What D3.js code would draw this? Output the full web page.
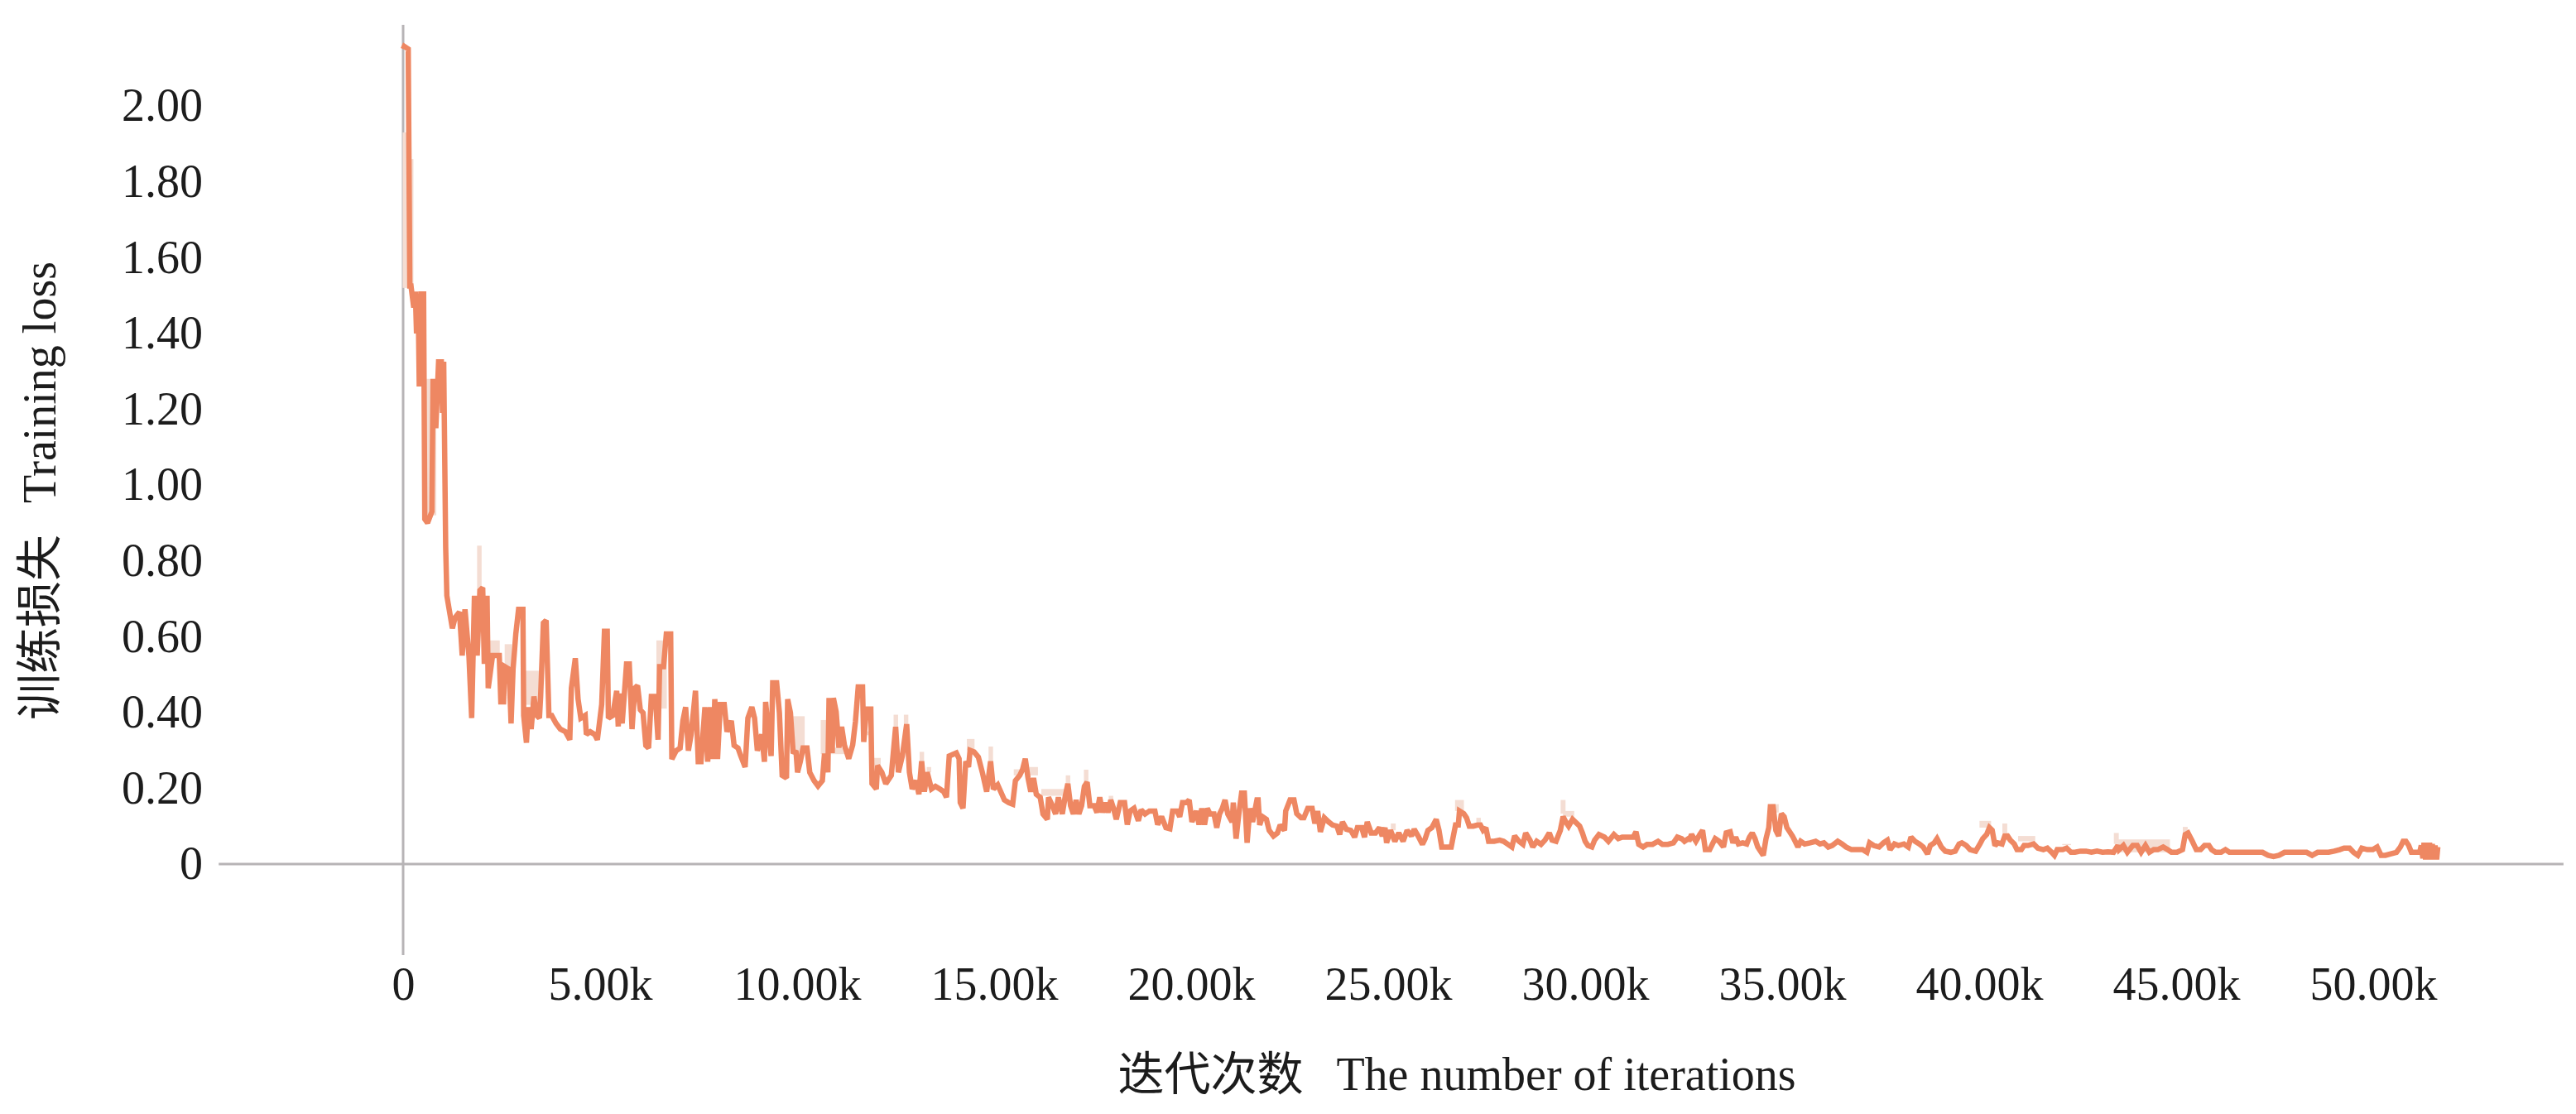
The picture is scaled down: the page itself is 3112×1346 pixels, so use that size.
<!DOCTYPE html>
<html><head><meta charset="utf-8">
<script src="https://cdn.jsdelivr.net/npm/d3@7"></script>
<style>html,body{margin:0;padding:0;background:#fff;} svg{display:block;}</style>
</head><body>
<svg id="chart" width="3112" height="1346"></svg>
<script>
// ---------- data (iterations in thousands, training loss) ----------
const yTickValues = [0, 0.2, 0.4, 0.6, 0.8, 1.0, 1.2, 1.4, 1.6, 1.8, 2.0];
const xTickValues = [0, 5, 10, 15, 20, 25, 30, 35, 40, 45, 50];
const xAxisExtent = [-4.68, 54.83];
const yAxisExtent = [-0.24, 2.214];
const xTitleZh = "迭代次数", xTitleEn = "The number of iterations";
const yTitleZh = "训练损失", yTitleEn = "Training loss";

const lossSegment1 = [[0.00,2.15],[0.03,2.157],[0.13,2.15],[0.17,1.525],[0.20,1.525],[0.27,1.468],[0.31,1.51],[0.34,1.40],[0.38,1.504],[0.41,1.26],[0.45,1.504],[0.52,1.504],[0.55,0.91],[0.62,0.90],[0.73,0.93],[0.76,1.28],[0.83,1.15],[0.90,1.325],[0.97,1.325],[1.00,1.19],[1.03,1.325],[1.08,0.837],[1.11,0.708],[1.18,0.665],[1.25,0.622],[1.32,0.65],[1.43,0.665],[1.50,0.55],[1.57,0.672],[1.67,0.55],[1.74,0.385],[1.81,0.708],[1.88,0.55],[1.95,0.722],[2.02,0.729],[2.06,0.528],[2.13,0.708],[2.16,0.464],[2.27,0.55],[2.44,0.55],[2.48,0.428],[2.55,0.428],[2.58,0.521],[2.69,0.514],[2.74,0.371],[2.79,0.514],[2.86,0.607],[2.93,0.672],[3.04,0.672],[3.06,0.392],[3.13,0.32],[3.18,0.414],[3.25,0.356],[3.32,0.442],[3.39,0.392],[3.46,0.385],[3.49,0.442],[3.56,0.636],[3.63,0.643],[3.70,0.392],[3.77,0.392],[3.88,0.371],[3.99,0.356],[4.12,0.349],[4.23,0.328],[4.27,0.464],[4.37,0.543],[4.44,0.435],[4.51,0.385],[4.62,0.392],[4.65,0.342],[4.75,0.349],[4.86,0.342],[4.93,0.328],[5.04,0.421],[5.11,0.614],[5.18,0.614],[5.21,0.385],[5.32,0.392],[5.42,0.457],[5.46,0.363],[5.49,0.45],[5.56,0.371],[5.67,0.528],[5.74,0.528],[5.81,0.356],[5.88,0.464],[5.95,0.471],[6.02,0.407],[6.09,0.399],[6.16,0.313],[6.23,0.306],[6.30,0.442],[6.40,0.442],[6.47,0.328],[6.51,0.521],[6.61,0.521],[6.68,0.607],[6.79,0.607],[6.82,0.277],[6.93,0.299],[7.03,0.306],[7.10,0.378],[7.17,0.414],[7.24,0.299],[7.31,0.342],[7.42,0.457],[7.49,0.27],[7.56,0.27],[7.66,0.414],[7.73,0.27],[7.80,0.414],[7.87,0.277],[7.91,0.435],[7.98,0.277],[8.05,0.421],[8.15,0.421],[8.22,0.349],[8.33,0.378],[8.40,0.313],[8.50,0.306],[8.57,0.285],[8.68,0.256],[8.75,0.385],[8.85,0.414],[8.92,0.385],[8.99,0.299],[9.10,0.342],[9.17,0.27],[9.20,0.428],[9.27,0.349],[9.34,0.285],[9.38,0.478],[9.48,0.478],[9.55,0.399],[9.62,0.234],[9.73,0.227],[9.76,0.435],[9.83,0.399],[9.90,0.292],[9.97,0.299],[10.01,0.242],[10.08,0.27],[10.15,0.306],[10.25,0.306],[10.32,0.242],[10.43,0.22],[10.53,0.206],[10.64,0.22],[10.69,0.285],[10.74,0.285]];

const lossSegment2 = [[10.78,0.242],[10.81,0.438],[10.89,0.293],[10.92,0.438],[10.99,0.402],[11.06,0.307],[11.13,0.362],[11.20,0.314],[11.31,0.278],[11.41,0.314],[11.48,0.376],[11.55,0.467],[11.66,0.467],[11.69,0.322],[11.76,0.409],[11.87,0.409],[11.90,0.212],[12.01,0.198],[12.04,0.26],[12.15,0.242],[12.25,0.212],[12.39,0.234],[12.50,0.362],[12.57,0.242],[12.67,0.285],[12.78,0.369],[12.85,0.242],[12.92,0.198],[13.02,0.22],[13.09,0.184],[13.16,0.271],[13.23,0.191],[13.30,0.242],[13.41,0.198],[13.51,0.205],[13.62,0.198],[13.72,0.191],[13.79,0.176],[13.86,0.285],[14.04,0.293],[14.11,0.278],[14.14,0.162],[14.21,0.147],[14.28,0.271],[14.35,0.256],[14.39,0.30],[14.49,0.296],[14.60,0.282],[14.70,0.242],[14.81,0.191],[14.91,0.271],[14.98,0.198],[15.09,0.209],[15.26,0.169],[15.37,0.162],[15.47,0.158],[15.54,0.22],[15.65,0.234],[15.72,0.249],[15.79,0.278],[15.86,0.227],[15.93,0.191],[16.00,0.227],[16.07,0.184],[16.17,0.176],[16.24,0.132],[16.35,0.118],[16.38,0.176],[16.49,0.151],[16.56,0.132],[16.63,0.176],[16.73,0.132],[16.80,0.176],[16.87,0.212],[16.94,0.154],[17.01,0.132],[17.08,0.169],[17.15,0.132],[17.22,0.154],[17.29,0.205],[17.36,0.216],[17.43,0.154],[17.54,0.154],[17.61,0.136],[17.68,0.176],[17.75,0.136],[17.82,0.162],[17.89,0.136],[17.96,0.169],[18.03,0.147],[18.10,0.118],[18.20,0.162],[18.31,0.162],[18.38,0.104],[18.45,0.14],[18.55,0.147],[18.66,0.114],[18.73,0.143],[18.83,0.132],[18.94,0.14],[19.08,0.14],[19.15,0.104],[19.25,0.125],[19.36,0.096],[19.46,0.093],[19.53,0.14],[19.64,0.14],[19.71,0.125],[19.78,0.162],[19.88,0.162],[19.95,0.169],[20.02,0.111],[20.13,0.14],[20.20,0.104],[20.27,0.147],[20.34,0.104],[20.41,0.147],[20.48,0.132],[20.58,0.132],[20.65,0.096],[20.72,0.132],[20.79,0.147],[20.86,0.169],[20.93,0.132],[21.04,0.111],[21.07,0.162],[21.14,0.067],[21.21,0.132],[21.28,0.187],[21.35,0.187],[21.42,0.056],[21.49,0.147],[21.56,0.111],[21.67,0.169]];

const lossSegment3 = [[21.70,0.169],[21.74,0.103],[21.81,0.125],[21.91,0.118],[21.98,0.089],[22.09,0.074],[22.19,0.082],[22.26,0.103],[22.37,0.089],[22.40,0.140],[22.51,0.169],[22.61,0.169],[22.68,0.133],[22.79,0.122],[22.86,0.122],[22.96,0.147],[23.07,0.147],[23.14,0.107],[23.21,0.140],[23.28,0.085],[23.38,0.122],[23.49,0.111],[23.59,0.103],[23.70,0.100],[23.77,0.078],[23.84,0.111],[23.94,0.092],[24.05,0.089],[24.15,0.071],[24.22,0.096],[24.33,0.096],[24.40,0.071],[24.47,0.111],[24.57,0.082],[24.68,0.082],[24.78,0.096],[24.85,0.074],[24.92,0.096],[24.96,0.056],[25.06,0.089],[25.17,0.060],[25.27,0.082],[25.38,0.060],[25.48,0.089],[25.59,0.074],[25.66,0.092],[25.76,0.074],[25.87,0.052],[25.94,0.067],[26.01,0.089],[26.11,0.096],[26.22,0.118],[26.29,0.089],[26.36,0.045],[26.46,0.045],[26.60,0.045],[26.71,0.103],[26.78,0.103],[26.81,0.140],[26.92,0.133],[26.99,0.122],[27.06,0.100],[27.16,0.100],[27.27,0.103],[27.34,0.103],[27.41,0.089],[27.48,0.096],[27.55,0.060],[27.69,0.060],[27.83,0.063],[27.93,0.060],[28.04,0.052],[28.14,0.045],[28.21,0.074],[28.32,0.060],[28.42,0.052],[28.49,0.082],[28.60,0.063],[28.67,0.045],[28.77,0.060],[28.88,0.052],[28.98,0.063],[29.09,0.082],[29.16,0.063],[29.26,0.060],[29.37,0.089],[29.44,0.125],[29.51,0.111],[29.58,0.100],[29.68,0.118],[29.75,0.111],[29.86,0.100],[29.93,0.082],[30.00,0.060],[30.07,0.049],[30.17,0.045],[30.24,0.063],[30.35,0.078],[30.49,0.071],[30.59,0.060],[30.73,0.078],[30.84,0.067],[30.94,0.071],[31.08,0.071],[31.22,0.071],[31.29,0.085],[31.36,0.052],[31.47,0.045],[31.57,0.052],[31.71,0.052],[31.85,0.060],[31.96,0.052],[32.10,0.052],[32.24,0.056],[32.34,0.071],[32.45,0.067],[32.52,0.060],[32.62,0.067]];

const lossSegment4 = [[32.63,0.060],[32.70,0.078],[32.81,0.060],[32.91,0.078],[32.98,0.089],[33.05,0.038],[33.16,0.038],[33.23,0.053],[33.30,0.067],[33.40,0.060],[33.51,0.045],[33.58,0.082],[33.68,0.085],[33.75,0.056],[33.82,0.071],[33.89,0.053],[34.00,0.056],[34.10,0.053],[34.17,0.071],[34.24,0.082],[34.31,0.067],[34.38,0.045],[34.45,0.034],[34.52,0.023],[34.59,0.067],[34.66,0.096],[34.70,0.151],[34.77,0.151],[34.84,0.089],[34.91,0.074],[34.98,0.133],[35.05,0.125],[35.12,0.096],[35.19,0.085],[35.26,0.074],[35.33,0.060],[35.40,0.045],[35.47,0.060],[35.57,0.053],[35.71,0.056],[35.85,0.060],[35.96,0.053],[36.06,0.056],[36.17,0.045],[36.27,0.049],[36.41,0.060],[36.52,0.053],[36.62,0.045],[36.76,0.038],[36.90,0.038],[37.04,0.038],[37.15,0.031],[37.22,0.056],[37.32,0.049],[37.46,0.045],[37.57,0.056],[37.67,0.063],[37.74,0.038],[37.85,0.053],[37.95,0.049],[38.09,0.053],[38.20,0.045],[38.27,0.071],[38.37,0.060],[38.48,0.053],[38.58,0.045],[38.69,0.027],[38.76,0.049],[38.86,0.056],[38.93,0.067],[39.04,0.045],[39.14,0.034],[39.28,0.031],[39.39,0.034],[39.49,0.053],[39.56,0.056],[39.67,0.049],[39.77,0.038],[39.91,0.034],[40.02,0.053],[40.09,0.067],[40.19,0.078],[40.26,0.096],[40.33,0.089],[40.40,0.049],[40.47,0.056],[40.58,0.053],[40.65,0.074],[40.72,0.074],[40.79,0.063],[40.89,0.053],[40.96,0.038],[41.07,0.038],[41.14,0.049],[41.24,0.049],[41.38,0.053],[41.49,0.042],[41.63,0.038],[41.73,0.042],[41.84,0.031],[41.91,0.023],[41.98,0.038],[42.12,0.038],[42.22,0.042],[42.33,0.031],[42.43,0.031],[42.57,0.034],[42.71,0.034],[42.85,0.031],[42.99,0.034],[43.13,0.031],[43.27,0.032],[43.41,0.031],[43.52,0.049]];

const lossSegment5 = [[43.55,0.038],[43.66,0.049],[43.76,0.031],[43.90,0.049],[44.01,0.049],[44.11,0.031],[44.22,0.049],[44.32,0.031],[44.43,0.038],[44.53,0.038],[44.67,0.045],[44.78,0.038],[44.88,0.031],[45.02,0.031],[45.16,0.038],[45.23,0.078],[45.30,0.082],[45.41,0.060],[45.51,0.038],[45.62,0.038],[45.72,0.049],[45.83,0.049],[45.90,0.038],[46.00,0.031],[46.14,0.031],[46.25,0.038],[46.35,0.031],[46.49,0.031],[46.63,0.031],[46.77,0.031],[46.91,0.031],[47.05,0.031],[47.19,0.031],[47.33,0.023],[47.47,0.020],[47.61,0.023],[47.75,0.031],[47.89,0.031],[48.03,0.031],[48.17,0.031],[48.31,0.031],[48.45,0.023],[48.59,0.031],[48.73,0.031],[48.87,0.031],[49.01,0.034],[49.15,0.038],[49.26,0.042],[49.40,0.042],[49.50,0.031],[49.61,0.023],[49.71,0.042],[49.85,0.038],[49.99,0.038],[50.10,0.045],[50.20,0.023],[50.31,0.023],[50.45,0.027],[50.59,0.031],[50.69,0.045],[50.76,0.060],[50.83,0.060],[50.90,0.049],[50.97,0.031],[51.08,0.031],[51.18,0.031],[51.22,0.049],[51.26,0.015],[51.29,0.056],[51.33,0.012],[51.36,0.056],[51.40,0.012],[51.43,0.056],[51.47,0.012],[51.50,0.053],[51.54,0.012],[51.57,0.049],[51.61,0.012],[51.64,0.045]];

// faint raw-loss excursions: [k start, k end, low, high]
const rawBands = [[0.03,0.13,1.52,1.93],[0.17,0.22,1.52,1.86],[0.60,0.80,0.92,1.28],[1.92,1.95,0.71,0.84],[2.20,2.41,0.55,0.59],[2.62,2.72,0.52,0.58],[3.11,3.42,0.42,0.51],[6.47,6.65,0.41,0.59],[9.94,10.15,0.29,0.39],[10.64,10.74,0.29,0.38],[10.89,11.24,0.29,0.307],[11.66,11.83,0.34,0.35],[11.97,12.08,0.26,0.28],[12.49,12.52,0.362,0.394],[12.75,12.78,0.37,0.394],[13.15,13.18,0.27,0.296],[13.33,13.36,0.242,0.256],[14.35,14.46,0.30,0.33],[14.90,14.93,0.27,0.31],[15.54,15.68,0.234,0.25],[15.93,16.07,0.234,0.256],[16.24,16.80,0.18,0.198],[16.86,16.89,0.212,0.234],[17.32,17.35,0.212,0.249],[17.95,17.98,0.17,0.18],[25.11,25.15,0.089,0.107],[26.74,26.88,0.14,0.169],[27.28,27.31,0.11,0.122],[29.42,29.46,0.133,0.169],[29.48,29.68,0.125,0.14],[34.77,34.87,0.136,0.158],[40.05,40.26,0.096,0.114],[40.63,40.67,0.082,0.107],[41.03,41.38,0.06,0.074],[42.15,42.29,0.05,0.053],[43.46,43.50,0.053,0.082],[43.55,44.80,0.031,0.065],[45.21,45.25,0.082,0.098]];

// ---------- drawing ----------
const lossData = [].concat(lossSegment1, lossSegment2, lossSegment3, lossSegment4, lossSegment5);
const svg = d3.select("#chart");
svg.append("rect").attr("width", 3112).attr("height", 1346).attr("fill", "#ffffff");

const xScale = d3.scaleLinear().domain([0, 50]).range([487, 2867]);
const yScale = d3.scaleLinear().domain([0, 2]).range([1044, 128]);

const serif = "'Liberation Serif', 'Times New Roman', serif";
const cjk = "'Noto Sans CJK SC', sans-serif";
const textColor = "#1c1c1c";
const axisColor = "#b7b4b6";

// axis lines
svg.append("line")
  .attr("x1", xScale(xAxisExtent[0])).attr("x2", xScale(xAxisExtent[1]))
  .attr("y1", yScale(0)).attr("y2", yScale(0))
  .attr("stroke", axisColor).attr("stroke-width", 3);
svg.append("line")
  .attr("x1", xScale(0)).attr("x2", xScale(0))
  .attr("y1", yScale(yAxisExtent[0])).attr("y2", yScale(yAxisExtent[1]))
  .attr("stroke", axisColor).attr("stroke-width", 3);

// y tick labels
const yAxisG = svg.append("g").attr("transform", `translate(${xScale(0)},0)`)
  .call(d3.axisLeft(yScale).tickValues(yTickValues).tickSize(0).tickPadding(xScale(0) - 245)
    .tickFormat(d => d === 0 ? "0" : d.toFixed(2)));
yAxisG.select(".domain").remove();
yAxisG.selectAll("text").attr("font-family", serif).attr("font-size", 56).attr("fill", textColor);

// x tick labels
const xAxisG = svg.append("g").attr("transform", `translate(0,${yScale(0)})`)
  .call(d3.axisBottom(xScale).tickValues(xTickValues).tickSize(0).tickPadding(124)
    .tickFormat(d => d === 0 ? "0" : d.toFixed(2) + "k"));
xAxisG.select(".domain").remove();
xAxisG.selectAll("text").attr("font-family", serif).attr("font-size", 56).attr("fill", textColor);

// raw faint bands
svg.append("g").selectAll("rect").data(rawBands).join("rect")
  .attr("x", d => xScale(d[0]) - 2)
  .attr("width", d => Math.max(xScale(d[1]) - xScale(d[0]) + 4, 4))
  .attr("y", d => yScale(d[3]))
  .attr("height", d => yScale(d[2]) - yScale(d[3]))
  .attr("fill", "#f4ddd3");

// smoothed loss line
const line = d3.line().x(d => xScale(d[0])).y(d => yScale(d[1]));
svg.append("path").datum(lossData)
  .attr("d", line)
  .attr("fill", "none")
  .attr("stroke", "#ee8762")
  .attr("stroke-width", 6.5)
  .attr("stroke-linejoin", "miter")
  .attr("stroke-miterlimit", 2);

// axis titles
const xTitle = svg.append("text")
  .attr("x", 1760).attr("y", 1317)
  .attr("text-anchor", "middle").attr("font-size", 56).attr("fill", textColor);
xTitle.append("tspan").attr("font-family", cjk).text(xTitleZh);
xTitle.append("tspan").attr("font-family", serif).attr("dx", 40).text(xTitleEn);

const yTitle = svg.append("text")
  .attr("transform", "translate(67,593) rotate(-90)")
  .attr("text-anchor", "middle").attr("font-size", 56).attr("fill", textColor);
yTitle.append("tspan").attr("font-family", cjk).text(yTitleZh);
yTitle.append("tspan").attr("font-family", serif).attr("dx", 38).text(yTitleEn);
</script>
</body></html>
